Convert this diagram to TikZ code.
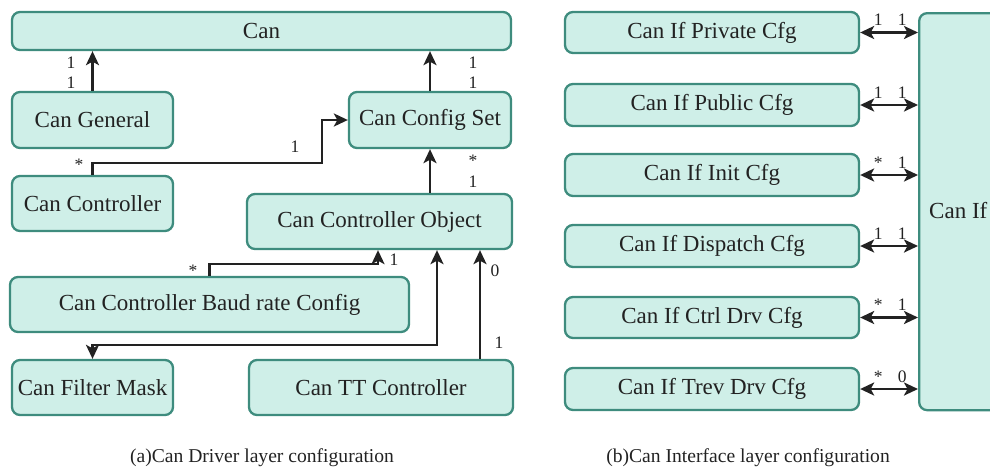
\documentclass[tikz,border=0pt]{standalone}
\usepackage{fontspec}
\setmainfont{Liberation Serif}
\usetikzlibrary{arrows.meta}
\definecolor{boxfill}{HTML}{CFEFE8}
\definecolor{boxline}{HTML}{3E8C7E}
\definecolor{ink}{HTML}{222222}
\tikzset{
  box/.style={draw=boxline, fill=boxfill, line width=2.3pt, rounded corners=8pt,
              inner sep=0pt, text=ink, font=\fontsize{23}{27}\selectfont},
  tip/.tip={Stealth[length=14pt,width=13pt,inset=3.5pt]},
  conn/.style={draw=ink, line width=2.6pt, -tip},
  bothconn/.style={draw=ink, line width=2.6pt, tip-tip},
  mult/.style={anchor=base, inner sep=0pt, text=ink, font=\fontsize{17.5}{20}\selectfont},
  caption/.style={anchor=base, inner sep=0pt, text=ink, font=\fontsize{19.6}{22}\selectfont}
}
\begin{document}
\begin{tikzpicture}[x=1pt, y=-1pt]
\useasboundingbox (0,0) rectangle (990,467);

% ---- (a) driver layer ----
\node[box, minimum width=499pt, minimum height=38pt] (can)    at (261.5,31)  {Can};
\node[box, minimum width=161pt, minimum height=56pt] (gen)    at (92.5,120)  {Can General};
\node[box, minimum width=162pt, minimum height=56pt] (cfgset) at (430,120)   {Can Config Set};
\node[box, minimum width=161pt, minimum height=55pt] (ctrl)   at (92.5,203.5){Can Controller};
\node[box, minimum width=265pt, minimum height=55pt] (obj)    at (379.5,221.5){Can Controller Object};
\node[box, minimum width=399pt, minimum height=55pt] (baud)   at (209.5,304.5){Can Controller Baud rate Config};
\node[box, minimum width=161pt, minimum height=55pt] (mask)   at (92.5,387.5){Can Filter Mask};
\node[box, minimum width=264pt, minimum height=55pt] (tt)     at (381,387.5) {Can TT Controller};

\coordinate (c1) at (322,163);
\coordinate (b1) at (378,264);
\coordinate (m1) at (437,345);
\coordinate (t1) at (480,0);

\draw[conn] (gen.north) -- (can.south -| gen.north);
\draw[conn] (cfgset.north) -- (can.south -| cfgset.north);
\draw[conn] (ctrl.north) |- (c1) |- (cfgset.west);
\draw[conn] (obj.north -| cfgset.south) -- (cfgset.south);
\draw[conn] (baud.north) |- (b1) -- (obj.south -| b1);
\draw[bothconn] (obj.south -| m1) -- (m1) -| (mask.north);
\draw[conn] (tt.north -| t1) -- (obj.south -| t1);

\node[mult] (ga) at (71,68)  {1};
\node[mult] (gb) at (71,88)  {1};
\node[mult] (sa) at (473,68) {1};
\node[mult] (sb) at (473,88) {1};
\node[mult] (ca) at (79,170) {*};
\node[mult] (cb) at (295,152) {1};
\node[mult] (oa) at (473,166) {*};
\node[mult] (ob) at (473,187) {1};
\node[mult] (ba) at (193,276) {*};
\node[mult] (bb) at (394,265) {1};
\node[mult] (ta) at (495,276) {0};
\node[mult] (tb) at (499,348) {1};

\node[caption] (capa) at (262,462) {(a)Can Driver layer configuration};

% ---- (b) interface layer ----
\node[box, minimum width=182pt, minimum height=397pt, anchor=north west] (canif) at (918,12) {};
\node[anchor=base west, inner sep=0pt, text=ink, font=\fontsize{23}{27}\selectfont] (canift) at (929,218) {Can If};

\node[box, minimum width=294pt, minimum height=41pt] (pvt)  at (712,32.5) {Can If Private Cfg};
\node[box, minimum width=294pt, minimum height=42pt] (pub)  at (712,105)  {Can If Public Cfg};
\node[box, minimum width=294pt, minimum height=42pt] (init) at (712,175)  {Can If Init Cfg};
\node[box, minimum width=294pt, minimum height=42pt] (disp) at (712,246)  {Can If Dispatch Cfg};
\node[box, minimum width=294pt, minimum height=41pt] (cdrv) at (712,317.5){Can If Ctrl Drv Cfg};
\node[box, minimum width=294pt, minimum height=42pt] (tdrv) at (712,389)  {Can If Trev Drv Cfg};

\foreach \n in {pvt,pub,init,disp,cdrv,tdrv}
  \draw[bothconn] (\n.east) -- (\n.east -| canif.west);

\foreach \n/\l/\r in {pvt/1/1, pub/1/1, init/*/1, disp/1/1, cdrv/*/1, tdrv/*/0} {
  \node[mult] (\n-l) at ([xshift=18pt, yshift=7pt]\n.east) {\l};
  \node[mult] (\n-r) at ([xshift=42pt, yshift=7pt]\n.east) {\r};
}

\node[caption] (capb) at (748,462) {(b)Can Interface layer configuration};
\end{tikzpicture}
\end{document}
